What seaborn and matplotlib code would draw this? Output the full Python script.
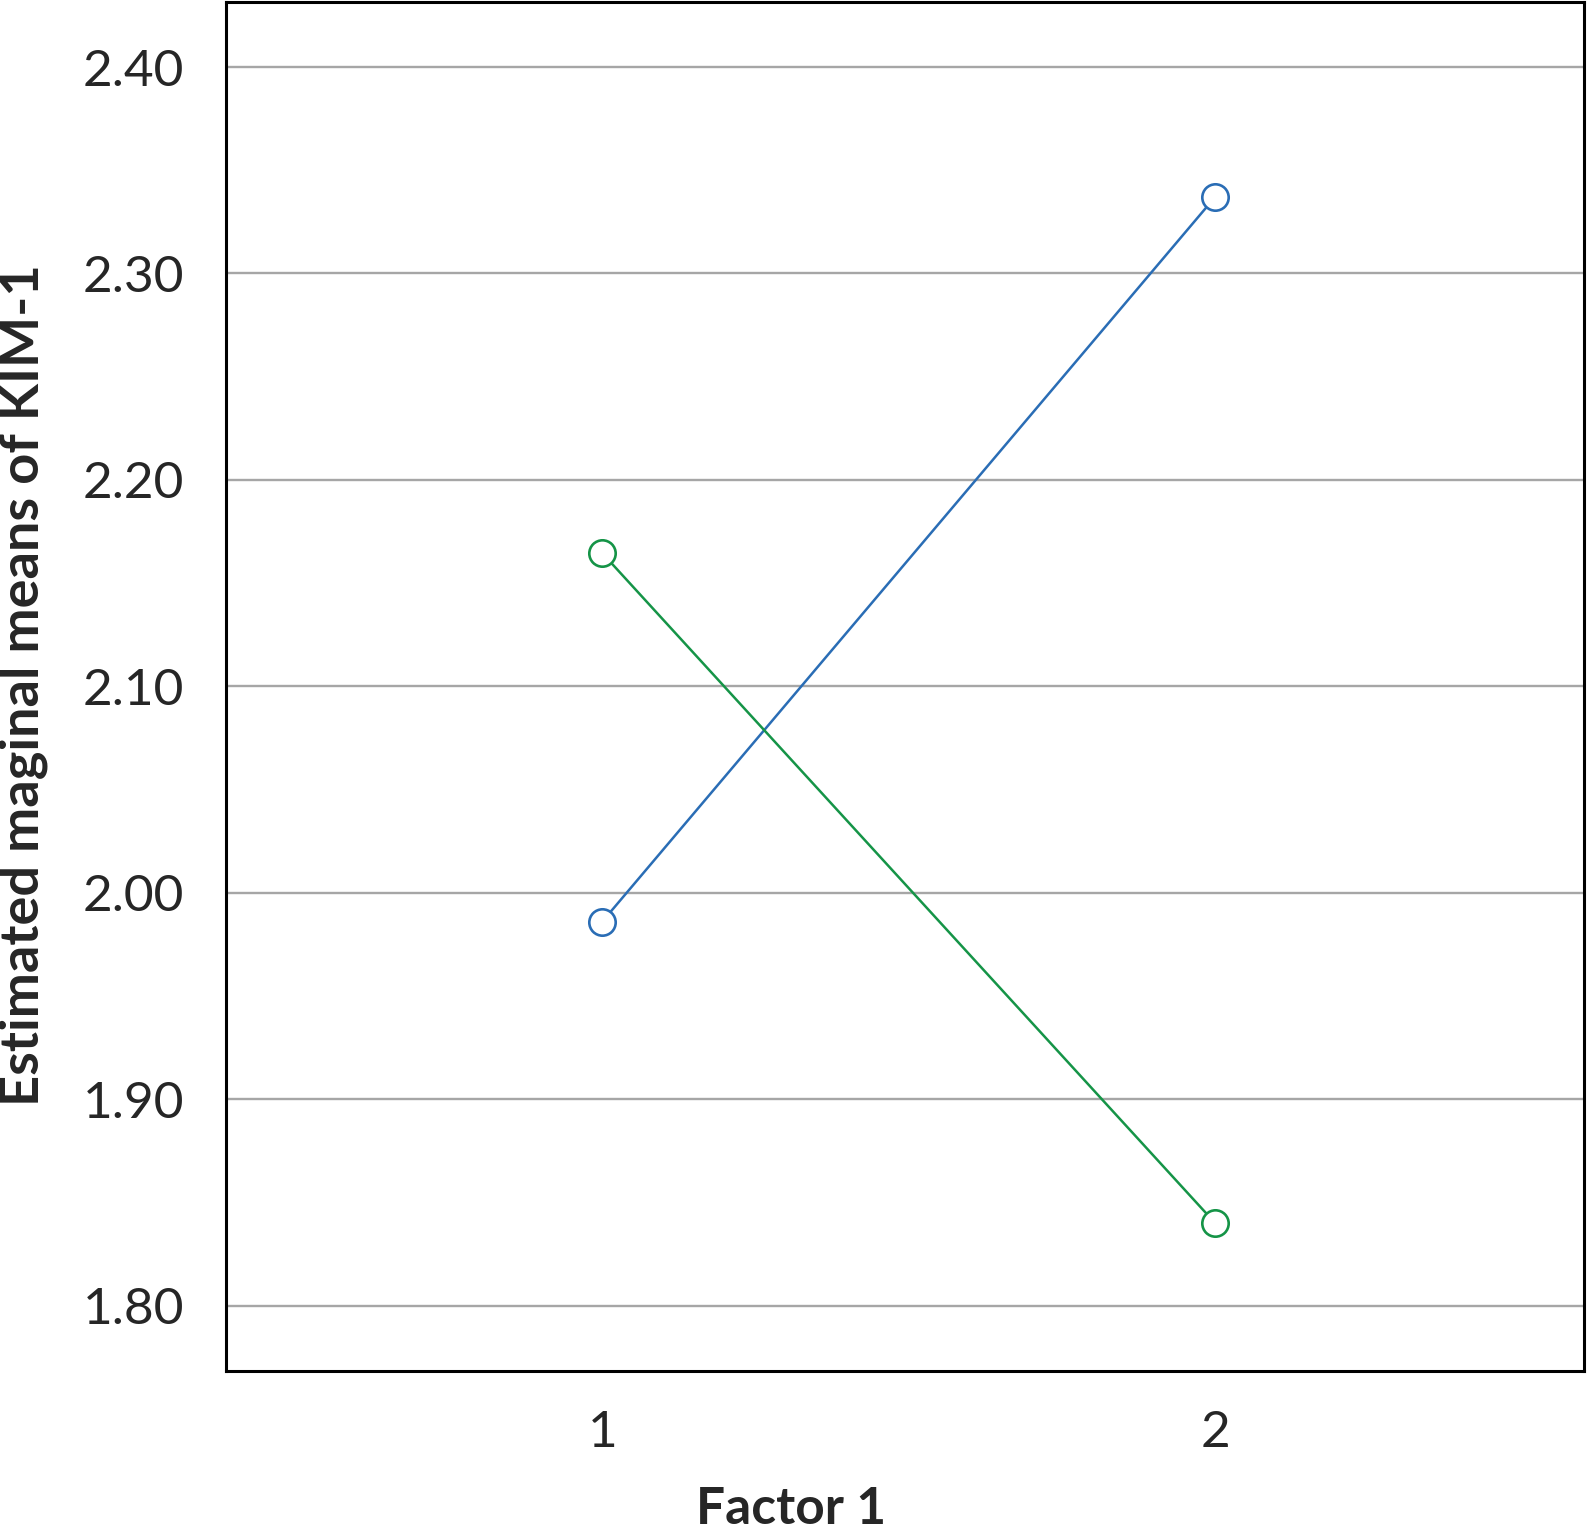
import pandas as pd
import matplotlib.pyplot as plt
import seaborn as sns

factor1 = [1, 2]
blue_means = [1.986, 2.337]
green_means = [2.1645, 1.840]
yticks = [1.80, 1.90, 2.00, 2.10, 2.20, 2.30, 2.40]

df = pd.DataFrame({
    "Factor 1": factor1 + factor1,
    "mean": blue_means + green_means,
    "group": ["a", "a", "b", "b"],
})

sns.set_style("white")
plt.rcParams["font.family"] = ["Lato", "DejaVu Sans"]

fig = plt.figure(figsize=(15.87, 15.30), dpi=100)
ax = fig.add_axes([226 / 1587, 1 - 1371 / 1530, (1584 - 226) / 1587, (1371 - 2) / 1530])

for y in yticks:
    ax.axhline(y, color="#a6a6a6", lw=1.7, zorder=0)

sns.lineplot(data=df, x="Factor 1", y="mean", hue="group",
             palette={"a": "#2a6db5", "b": "#159447"},
             marker="o", markersize=19, markerfacecolor="white",
             markeredgewidth=1.9, lw=1.8, legend=False, ax=ax)
for line in ax.lines[len(yticks):]:
    line.set_markeredgecolor(line.get_color())

ax.set_xlim(0.386, 2.602)
ax.set_ylim(1.7683, 2.4315)
ax.set_xticks(factor1)
ax.set_xticklabels([str(v) for v in factor1])
ax.set_yticks(yticks)
ax.set_yticklabels([f"{v:.2f}" for v in yticks])
for s in ax.spines.values():
    s.set_color("black")
    s.set_linewidth(2.2)
ax.tick_params(axis="both", length=14, width=2.2, color="black", labelsize=37, pad=16)
ax.tick_params(axis="x", pad=14)
ax.set_xlabel("Factor 1", fontsize=37, fontweight="bold")
ax.xaxis.set_label_coords(0.416, -0.084)
ax.set_ylabel("Estimated maginal means of KIM-1", fontsize=39, fontweight="bold")
ax.yaxis.set_label_coords(-0.131, 0.501)

fig.savefig("out.png", dpi=100)
